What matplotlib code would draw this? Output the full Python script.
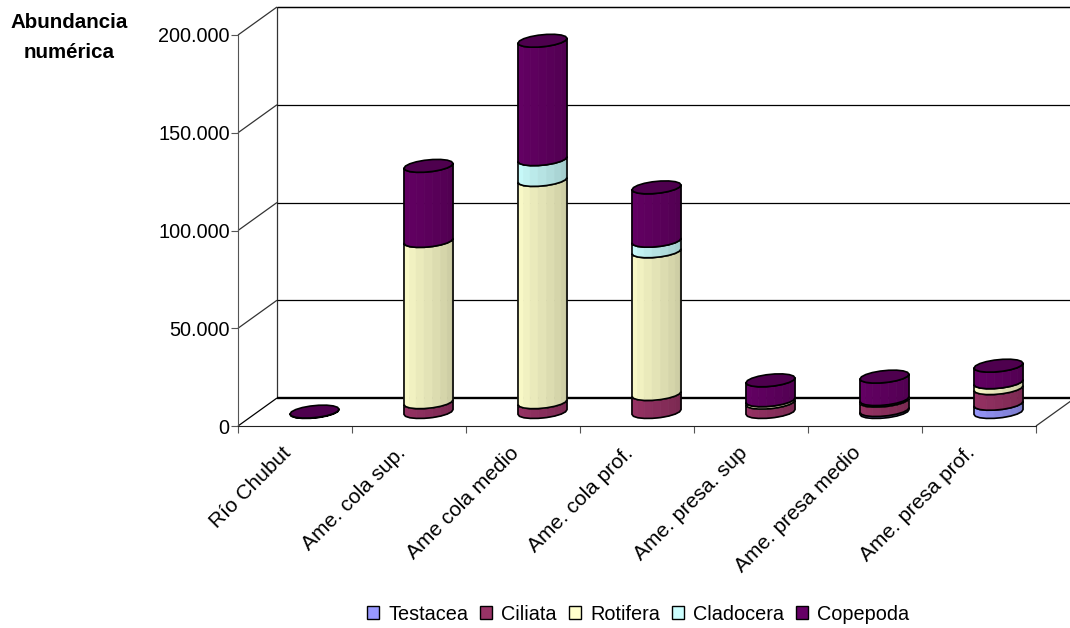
import matplotlib

matplotlib.use("Agg")
import matplotlib.pyplot as plt
import numpy as np
from matplotlib.patches import Patch, Polygon

plt.rcParams["font.family"] = ["Liberation Sans", "DejaVu Sans"]

categories = [
    "Río Chubut",
    "Ame. cola sup.",
    "Ame cola medio",
    "Ame. cola prof.",
    "Ame. presa. sup",
    "Ame. presa medio",
    "Ame. presa prof.",
]
series_names = ["Testacea", "Ciliata", "Rotifera", "Cladocera", "Copepoda"]
testacea = [0, 0, 0, 0, 0, 1000, 4200]
ciliata = [0, 5000, 5000, 9200, 4800, 4800, 8000]
rotifera = [0, 82500, 113700, 73000, 1200, 800, 3000]
cladocera = [0, 0, 10600, 5400, 0, 0, 0]
copepoda = [200, 38400, 60600, 27300, 10200, 11500, 8500]
series_values = [testacea, ciliata, rotifera, cladocera, copepoda]
colors = ["#9999FF", "#993366", "#FFFFCC", "#CCFFFF", "#660066"]
y_ticks = [0, 50000, 100000, 150000, 200000]
y_tick_labels = ["0", "50.000", "100.000", "150.000", "200.000"]

W, H = 1070, 628
PX_X = 1 / 114  # categories per pixel
PX_Y = 200000 / 391  # abundance per pixel
DEPTH_X = 39 * PX_X
DEPTH_Y = 28 * PX_Y

fig = plt.figure(figsize=(W / 100, H / 100), dpi=100)
ax = fig.add_axes([238 / W, 1 - 426 / H, 798 / W, 391 / H])
ax.set_xlim(0, 7)
ax.set_ylim(0, 200000)
ax.patch.set_visible(False)

for side in ["top", "right"]:
    ax.spines[side].set_visible(False)
ax.spines["left"].set_color("#555555")
ax.spines["bottom"].set_color("#222222")


def wall_line(xs, ys, **kw):
    kw.setdefault("color", "black")
    kw.setdefault("lw", 0.9)
    ax.plot(xs, ys, clip_on=False, zorder=1, solid_capstyle="butt", **kw)


# back wall, side wall and floor
top_y = 200000 + DEPTH_Y
x_end = 7 + DEPTH_X
wall_line([DEPTH_X, DEPTH_X], [DEPTH_Y, top_y], color="#333333")
wall_line([DEPTH_X, x_end], [top_y, top_y])
wall_line([0, DEPTH_X], [0, DEPTH_Y])
wall_line([7, x_end], [0, DEPTH_Y], color="#333333")
for v in y_ticks:
    if v > 0:
        wall_line([0, DEPTH_X], [v, v + DEPTH_Y], color="#333333")
        wall_line([DEPTH_X, x_end], [v + DEPTH_Y, v + DEPTH_Y])
wall_line([DEPTH_X, x_end], [DEPTH_Y, DEPTH_Y], lw=1.7)

# cylinder cross-section, in pixels
A_PX, B_PX, C_PX = 22.8, 9.0, 6.5
T0 = np.arctan2(B_PX, A_PX)
N_FACETS = 9


def ring(t):
    return (A_PX * np.cos(t) + B_PX * np.sin(t)) * PX_X, C_PX * np.sin(t) * PX_Y


def draw_segment(cx, base, height, color, zorder):
    ts = np.linspace(T0 + np.pi, T0 + 2 * np.pi, N_FACETS + 1)
    dx, dy = ring(ts)
    y0 = base + DEPTH_Y / 2
    y1 = y0 + height
    rgb = np.array(matplotlib.colors.to_rgb(color))
    for k in range(N_FACETS):
        shade = 1.0 - 0.22 * k / (N_FACETS - 1)
        pts = [
            (cx + dx[k], y0 + dy[k]),
            (cx + dx[k + 1], y0 + dy[k + 1]),
            (cx + dx[k + 1], y1 + dy[k + 1]),
            (cx + dx[k], y1 + dy[k]),
        ]
        ax.add_patch(
            Polygon(pts, closed=True, fc=rgb * shade, ec=rgb * shade, lw=0.6,
                    clip_on=False, zorder=zorder)
        )
    outline = np.concatenate([
        np.column_stack([cx + dx, y0 + dy]),
        np.column_stack([cx + dx[::-1], y1 + dy[::-1]]),
    ])
    ax.add_patch(
        Polygon(outline, closed=True, fill=False, ec="black", lw=1.2,
                joinstyle="round", clip_on=False, zorder=zorder + 0.1)
    )


def draw_cap(cx, top, color, zorder):
    ts = np.linspace(0, 2 * np.pi, 2 * N_FACETS + 1)[:-1] + T0
    dx, dy = ring(ts)
    y = top + DEPTH_Y / 2
    ax.add_patch(
        Polygon(np.column_stack([cx + dx, y + dy]), closed=True,
                fc=np.array(matplotlib.colors.to_rgb(color)) * 0.76, ec="black",
                lw=1.2, clip_on=False, zorder=zorder)
    )


for i in range(len(categories)):
    cx = i + 0.5 + DEPTH_X / 2
    base = 0
    z = 3
    last = 0
    for j, values in enumerate(series_values):
        if values[i] > 0:
            draw_segment(cx, base, values[i], colors[j], z)
            base += values[i]
            last = j
            z += 1
    draw_cap(cx, base, colors[last], z)

ax.set_yticks(y_ticks, labels=y_tick_labels)
ax.set_xticks(np.arange(0, 8))
ax.set_xticklabels([])
ax.set_xticks(np.arange(len(categories)) + 0.5, labels=categories, minor=True)
ax.tick_params(axis="y", labelsize=14.3, length=5, color="#555555", pad=1)
ax.tick_params(axis="x", which="major", length=5, color="#555555")
ax.tick_params(axis="x", which="minor", length=0, labelsize=15, pad=22)
for label in ax.get_xticklabels(minor=True):
    label.set_rotation(45)
    label.set_ha("right")
    label.set_va("bottom")
    label.set_rotation_mode("anchor")

fig.text(69 / W, 1 - 37.5 / H, "Abundancia\nnumérica", ha="center", va="center",
         fontsize=14.8, fontweight="bold", linespacing=1.78)

handles = [Patch(fc=c, ec="black", lw=1.0) for c in colors]
fig.legend(
    handles, series_names, loc="center", bbox_to_anchor=(638 / W, 1 - 614 / H),
    ncol=5, frameon=False, fontsize=14.3, handlelength=0.62, handleheight=0.62,
    handletextpad=0.45, columnspacing=0.6, borderpad=0,
)

fig.savefig("out.png", dpi=100)
